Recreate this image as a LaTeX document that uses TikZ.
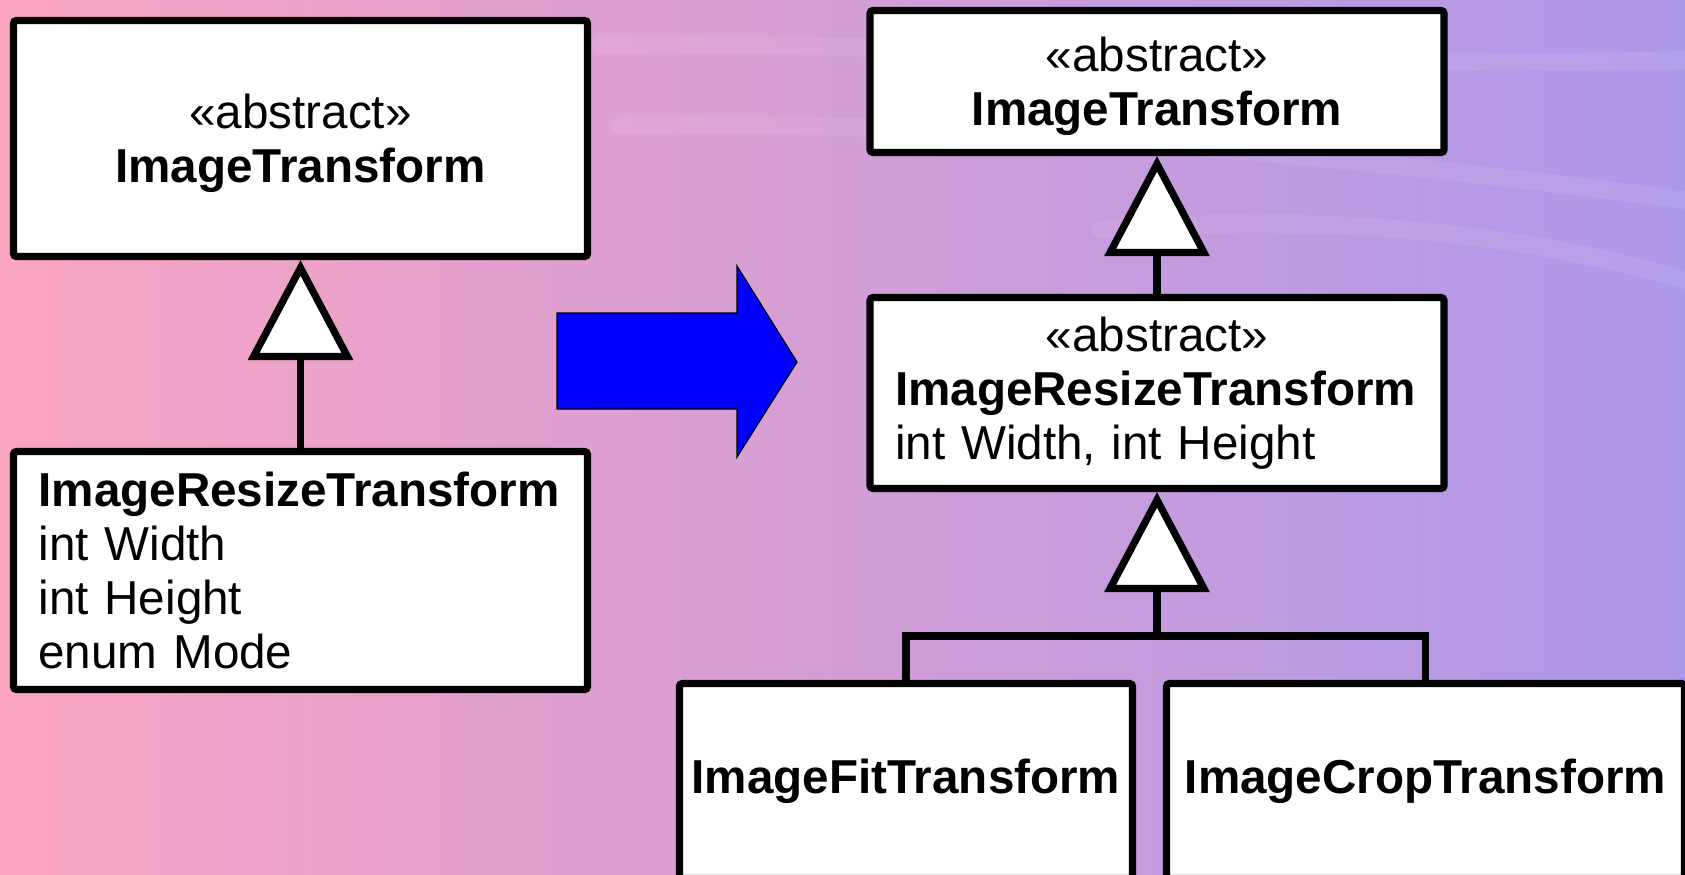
\documentclass[tikz,border=0pt]{standalone}
\usepackage{fontspec}
\setmainfont{Liberation Sans}
\usetikzlibrary{arrows.meta}

\definecolor{bgleft}{RGB}{250,164,193}
\definecolor{bgmid}{RGB}{228,160,210}
\definecolor{bgright}{RGB}{172,152,235}

\tikzset{
  cls/.style={draw, fill=white, line width=3.6pt, rounded corners=1.5pt,
    inner sep=0pt, font=\fontsize{23.8}{27}\selectfont},
  clsleft/.style={cls, align=left, text width=262pt},
  clsmid/.style={cls, align=center},
  edge/.style={line width=3.6pt},
  inherit/.style={edge, -{Triangle[fill=white, length=50pt, width=52pt, line width=3.6pt]}},
  streak/.style={white, opacity=0.08, line width=9pt, line cap=round},
}

\begin{document}
\begin{tikzpicture}[x=0.5pt, y=-0.5pt]
    \useasboundingbox (0,0) rectangle (1685,874);
    \clip (0,0) rectangle (1685,874);

    % background
    \shade[left color=bgleft, middle color=bgmid, right color=bgright]
        (0,0) rectangle (1685,874);
    \draw[streak] (600,45) .. controls (900,40) and (1300,70) .. (1685,60);
    \draw[streak] (620,125) .. controls (950,120) and (1300,150) .. (1685,200);
    \draw[streak] (1100,230) .. controls (1350,210) and (1550,240) .. (1685,280);

    % before
    \node[clsmid, minimum width=287pt, minimum height=118pt, text depth=0pt] (base) at (300.5,138.5)
        {«abstract»\\\textbf{ImageTransform}};
    \node[clsleft, minimum width=287pt, minimum height=119pt] (resize) at (300.5,570.5)
        {\textbf{ImageResizeTransform}\\int Width\\int Height\\enum Mode};
    \draw[inherit] (resize.north) -- (base.south);

    % refactoring arrow
    \draw[fill=blue, line width=0.6pt]
        (557,313) -- (737,313) -- (737,266) -- (797,362)
        -- (737,457) -- (737,409) -- (557,409) -- cycle;

    % after
    \node[clsmid, minimum width=287pt, minimum height=71pt, text depth=0pt] (rbase) at (1157,81.5)
        {«abstract»\\\textbf{ImageTransform}};
    \node[clsleft, minimum width=287pt, minimum height=95.5pt] (rresize) at (1157,393)
        {\hfill«abstract»\hfill\mbox{}\\\textbf{ImageResizeTransform}\\int Width, int Height};
    \node[clsmid, minimum width=226.5pt, minimum height=97.5pt] (fit) at (906,781)
        {\textbf{ImageFitTransform}};
    \node[clsmid, minimum width=259pt, minimum height=97.5pt] (crop) at (1425.5,781)
        {\textbf{ImageCropTransform}};

    \coordinate (split) at (1157,636);
    \draw[edge] (fit.north) |- (split) -| (crop.north);
    \draw[inherit] (split) -- (rresize.south);
    \draw[inherit] (rresize.north) -- (rbase.south);
\end{tikzpicture}
\end{document}
